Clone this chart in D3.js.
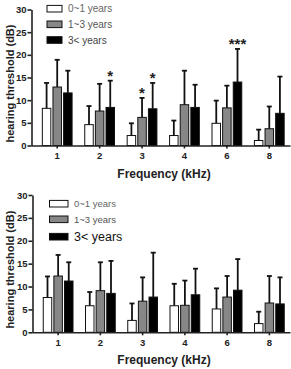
<!DOCTYPE html>
<html>
<head>
<meta charset="utf-8">
<script src="https://cdn.jsdelivr.net/npm/d3@7"></script>
<style>
  body { margin: 0; background: #fff; }
  text { font-family: Arial, "Liberation Sans", sans-serif; }
</style>
</head>
<body>
<div id="wrapper"></div>
<script>
// categories
const freqs = ["1", "2", "3", "4", "6", "8"];
const groups = ["0~1 years", "1~3 years", "3< years"];
const yTicks = [0, 5, 10, 15, 20, 25, 30];

// top panel: means and SD (upper error)
const topYoung = [8.2, 4.6, 2.2, 2.2, 4.9, 1.1];
const topYoungSD = [5.6, 4.1, 2.7, 3.3, 5.0, 2.4];
const topMid = [12.9, 7.6, 6.2, 9.0, 8.3, 3.7];
const topMidSD = [6.0, 6.0, 4.3, 7.5, 4.9, 4.9];
const topOld = [11.6, 8.4, 8.1, 8.4, 14.0, 7.1];
const topOldSD = [4.9, 5.9, 5.7, 5.0, 7.3, 8.1];
// significance marks: [freq, group, label]
const topStars = [["2", "3< years", "*"], ["3", "1~3 years", "*"], ["3", "3< years", "*"], ["6", "3< years", "***"]];

// bottom panel
const botYoung = [7.6, 5.8, 2.6, 5.8, 5.1, 1.9];
const botYoungSD = [4.6, 3.0, 3.7, 4.8, 4.5, 2.6];
const botMid = [12.3, 9.1, 6.8, 5.9, 7.7, 6.4];
const botMidSD = [4.6, 6.2, 5.2, 5.4, 4.6, 5.9];
const botOld = [11.2, 8.5, 7.7, 8.2, 9.2, 6.2];
const botOldSD = [4.1, 7.1, 9.7, 5.7, 6.8, 5.8];
const botStars = [];

const fills = ["#ffffff", "#878787", "#000000"];
const ink = "#222";

const svg = d3.select("#wrapper").append("svg")
  .attr("width", 291)
  .attr("height", 369);

function toRows(means, sds) {
  const rows = [];
  freqs.forEach((f, i) => {
    groups.forEach((g, j) => {
      rows.push({freq: f, group: g, mean: means[j][i], sd: sds[j][i]});
    });
  });
  return rows;
}

function drawPanel(opt) {
  const rows = toRows(opt.means, opt.sds);

  const y = d3.scaleLinear().domain([0, 30]).range([opt.y0, opt.y30]);
  const x = d3.scaleBand().domain(freqs).range([opt.left + 4.5, 290.5]);
  const xSub = d3.scaleBand().domain(groups).range([-17, 17]).padding(0.2);
  const cx = d => x(d.freq) + x.bandwidth() / 2 + xSub(d.group);
  const bw = xSub.bandwidth();

  const g = svg.append("g");

  // bars
  g.selectAll(".bar").data(rows).join("rect")
    .attr("x", d => cx(d))
    .attr("y", d => y(d.mean))
    .attr("width", bw)
    .attr("height", d => opt.y0 - y(d.mean))
    .attr("fill", d => fills[groups.indexOf(d.group)])
    .attr("stroke", "#111")
    .attr("stroke-width", 1);

  // error bars (upper only)
  g.selectAll(".err").data(rows).join("line")
    .attr("x1", d => cx(d) + bw / 2)
    .attr("x2", d => cx(d) + bw / 2)
    .attr("y1", d => y(d.mean))
    .attr("y2", d => y(d.mean + d.sd))
    .attr("stroke", "#111")
    .attr("stroke-width", 1.8);
  g.selectAll(".cap").data(rows).join("line")
    .attr("x1", d => cx(d) + bw / 2 - 2.5)
    .attr("x2", d => cx(d) + bw / 2 + 2.5)
    .attr("y1", d => y(d.mean + d.sd))
    .attr("y2", d => y(d.mean + d.sd))
    .attr("stroke", "#111")
    .attr("stroke-width", 1.8);

  // stars
  g.selectAll(".star").data(opt.stars).join("text")
    .attr("x", d => x(d[0]) + x.bandwidth() / 2 + xSub(d[1]) + bw / 2)
    .attr("y", d => {
      const r = rows.find(q => q.freq === d[0] && q.group === d[1]);
      return y(r.mean + r.sd) - 2;
    })
    .attr("text-anchor", "middle")
    .attr("font-size", 15)
    .attr("font-weight", "bold")
    .attr("fill", ink)
    .attr("dy", "0.55em")
    .attr("transform", "translate(0,-6)")
    .text(d => d[2]);

  // axes
  const yAxis = g.append("g")
    .attr("transform", `translate(${opt.left},0)`)
    .call(d3.axisLeft(y).tickValues(yTicks).tickSize(4).tickSizeOuter(0));
  const xAxis = g.append("g")
    .attr("transform", `translate(0,${opt.y0})`)
    .call(d3.axisBottom(x).tickSize(3).tickSizeOuter(0));
  xAxis.select(".domain").attr("d", `M${opt.left},0.5H290.5`);
  [yAxis, xAxis].forEach(a => {
    a.selectAll("path, line").attr("stroke", ink).attr("stroke-width", 1.6);
    a.selectAll("text")
      .attr("font-size", 9.5)
      .attr("font-weight", "bold")
      .attr("fill", ink)
      .attr("font-family", "Arial, 'Liberation Sans', sans-serif");
  });
  yAxis.selectAll("text").attr("x", -5);
  xAxis.selectAll("text").attr("y", 7);

  // axis titles
  g.append("text")
    .attr("transform", `translate(10,${(opt.y0 + opt.y30) / 2 + 6}) rotate(-90)`)
    .attr("text-anchor", "middle")
    .attr("dy", "0.35em")
    .attr("font-size", 11)
    .attr("font-weight", "bold")
    .attr("fill", ink)
    .text("hearing threshold (dB)");
  g.append("text")
    .attr("x", 164)
    .attr("y", opt.y0 + 32)
    .attr("text-anchor", "middle")
    .attr("font-size", 12)
    .attr("font-weight", "bold")
    .attr("fill", ink)
    .text("Frequency (kHz)");

  // legend
  const lg = g.append("g");
  groups.forEach((name, i) => {
    const ly = opt.legendY[i];
    lg.append("rect")
      .attr("x", opt.legendX)
      .attr("y", ly - 3.3)
      .attr("width", opt.legendW)
      .attr("height", 6.6)
      .attr("fill", fills[i])
      .attr("stroke", "#111")
      .attr("stroke-width", 1);
    lg.append("text")
      .attr("x", opt.legendX + opt.legendW + 6)
      .attr("y", ly)
      .attr("dy", "0.35em")
      .attr("font-size", opt.legendFont[i])
      .attr("fill", opt.legendColor[i])
      .text(name);
  });
}

drawPanel({
  means: [topYoung, topMid, topOld],
  sds: [topYoungSD, topMidSD, topOldSD],
  stars: topStars,
  left: 31.5, y0: 145.5, y30: 9.5,
  legendX: 47, legendW: 15,
  legendY: [8.7, 24.3, 40],
  legendFont: [10, 10, 10],
  legendColor: ["#666", "#555", "#444"]
});

drawPanel({
  means: [botYoung, botMid, botOld],
  sds: [botYoungSD, botMidSD, botOldSD],
  stars: botStars,
  left: 32.5, y0: 332.3, y30: 195,
  legendX: 49.5, legendW: 18.5,
  legendY: [203.7, 219.3, 236.7],
  legendFont: [9.5, 9.5, 12.5],
  legendColor: ["#666", "#555", "#111"]
});
</script>
</body>
</html>
